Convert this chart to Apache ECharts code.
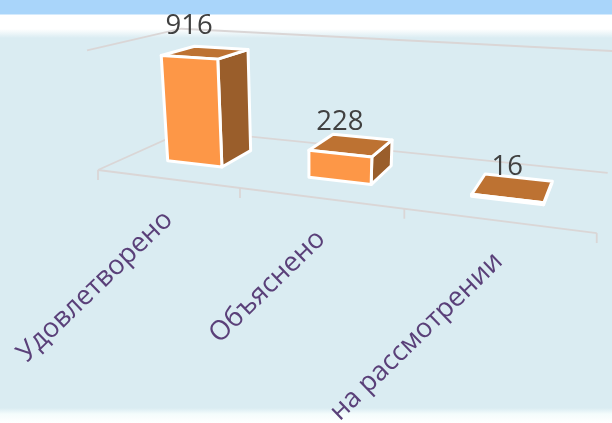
<!DOCTYPE html>
<html>
<head>
<meta charset="utf-8">
<style>
  html, body { margin: 0; padding: 0; }
  #chart { width: 612px; height: 423px; }
</style>
<script src="https://cdn.jsdelivr.net/npm/echarts@6/dist/echarts.min.js"></script>
</head>
<body>
<div id="chart"></div>
<script>
const categories = ['Удовлетворено', 'Объяснено', 'на рассмотрении'];
const values = [916, 228, 16];
const axisMax = 1000;

const FONT = '"Open Sans", "Noto Sans", sans-serif';
const H = 423;
const BAR_WIDTH = 0.4; // share of the category band
const BAR_FRONT = 0.31;
const BAR_BACK = 0.69;

// perspective of the 3D box: u along categories, v into depth, h up the value axis
function project(u, v, h) {
  const d = 1 - 0.204 * u + 0.1897 * v - 0.0487 * h;
  return [
    (98 + 377 * u + 124 * v - 15.2 * h) / d,
    (170 + 15.5 * u - 15.2 * v - 122 * h) / d
  ];
}

function line(points, width) {
  return {
    type: 'polyline',
    shape: { points },
    style: { fill: null, stroke: '#dad6d6', lineWidth: width || 1.8 }
  };
}

function renderFrame(params, api) {
  const children = [
    line([project(0, 0, 1), project(0, 1, 1), project(1, 1, 1)]),
    line([project(0, 0, 0), project(0, 1, 0), project(1, 1, 0)]),
    line([project(0, 0, 0), project(1, 0, 0)])
  ];
  for (let i = 0; i <= categories.length; i += 1) {
    const p = project(i / categories.length, 0, 0);
    children.push(line([p, [p[0], p[1] + 10]]));
  }
  return { type: 'group', children };
}

function renderBar(params, api) {
  const grid = params.coordSys;
  const center = api.coord([api.value(0), 0]);
  const top = api.coord([api.value(0), api.value(1)]);
  const half = api.size([1, 0])[0] * BAR_WIDTH / 2;
  const u0 = (center[0] - half - grid.x) / grid.width;
  const u1 = (center[0] + half - grid.x) / grid.width;
  const um = (center[0] - grid.x) / grid.width;
  const h = (center[1] - top[1]) / grid.height;

  const face = (pts, fill) => ({
    type: 'polygon',
    shape: { points: pts },
    style: { fill, stroke: '#ffffff', lineWidth: 3, lineJoin: 'round' }
  });

  const labelAt = project(um, BAR_FRONT, h);
  const tickAt = project(um, 0, 0);

  return {
    type: 'group',
    children: [
      face([project(u1, BAR_FRONT, 0), project(u1, BAR_BACK, 0), project(u1, BAR_BACK, h), project(u1, BAR_FRONT, h)], '#9a5e2b'),
      face([project(u0, BAR_FRONT, h), project(u1, BAR_FRONT, h), project(u1, BAR_BACK, h), project(u0, BAR_BACK, h)], '#bd7232'),
      face([project(u0, BAR_FRONT, 0), project(u1, BAR_FRONT, 0), project(u1, BAR_FRONT, h), project(u0, BAR_FRONT, h)], '#fd9747'),
      {
        type: 'text',
        style: {
          x: labelAt[0],
          y: labelAt[1] - 31,
          text: String(api.value(1)),
          fill: '#404040',
          font: '27.5px ' + FONT,
          align: 'center',
          verticalAlign: 'middle'
        }
      },
      {
        type: 'text',
        x: tickAt[0] + 2,
        y: tickAt[1] + 37,
        rotation: 44 * Math.PI / 180,
        style: {
          x: 0,
          y: 0,
          text: categories[params.dataIndex],
          fill: '#5a4079',
          font: '27px ' + FONT,
          align: 'right',
          verticalAlign: 'middle'
        }
      }
    ]
  };
}

const chart = echarts.init(document.getElementById('chart'), null, { renderer: 'canvas' });
chart.setOption({
  animation: false,
  backgroundColor: new echarts.graphic.LinearGradient(0, 0, 0, 1, [
    { offset: 0, color: '#a9d5fa' },
    { offset: 14 / H, color: '#a9d5fa' },
    { offset: 15 / H, color: '#ffffff' },
    { offset: 29 / H, color: '#ffffff' },
    { offset: 38 / H, color: '#daecf2' },
    { offset: 408 / H, color: '#daecf2' },
    { offset: 414 / H, color: '#f4fcfc' },
    { offset: 1, color: '#ffffff' }
  ]),
  grid: { left: 0, right: 0, top: 0, bottom: 0 },
  xAxis: { type: 'category', data: categories, show: false },
  yAxis: { type: 'value', min: 0, max: axisMax, show: false },
  series: [
    {
      type: 'custom',
      silent: true,
      data: [[0, 0]],
      renderItem: renderFrame
    },
    {
      type: 'custom',
      data: values.map((v, i) => [i, v]),
      encode: { x: 0, y: 1 },
      renderItem: renderBar
    }
  ]
});
</script>
</body>
</html>
